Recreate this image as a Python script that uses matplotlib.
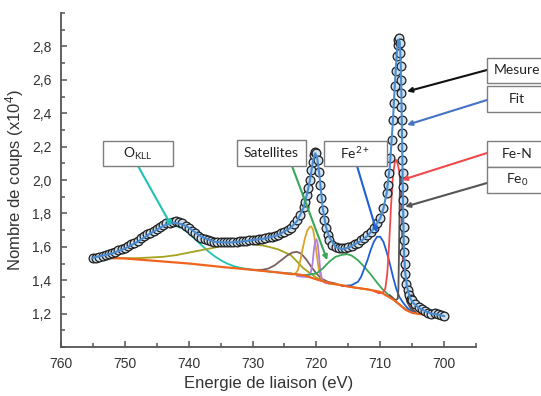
import numpy as np
import matplotlib.pyplot as plt
from matplotlib.patches import Rectangle
from matplotlib.ticker import MultipleLocator, FixedLocator, FuncFormatter

plt.rcParams['font.family'] = ['Liberation Sans', 'DejaVu Sans']
plt.rcParams['mathtext.default'] = 'regular'

# measured spectrum (binding energy in eV, counts x1e4)
mes_E = [755.0, 754.5, 754.0, 753.5, 753.0, 752.5, 752.0, 751.5, 751.0, 750.5,
         750.0, 749.5, 749.0, 748.5, 748.0, 747.5, 747.0, 746.5, 746.0, 745.5,
         745.0, 744.5, 744.0, 743.5, 743.0, 742.5, 742.0, 741.5, 741.0, 740.5,
         740.0, 739.5, 739.0, 738.5, 738.0, 737.5, 737.0, 736.5, 736.0, 735.5,
         735.0, 734.5, 734.0, 733.5, 733.0, 732.5, 732.0, 731.5, 731.0, 730.5,
         730.0, 729.5, 729.0, 728.5, 728.0, 727.5, 727.0, 726.5, 726.0, 725.5,
         725.0, 724.5, 724.0, 723.5, 723.0, 722.5, 722.0, 721.75, 721.5, 721.25,
         721.0, 720.8, 720.6, 720.4, 720.2, 720.0, 719.8, 719.6, 719.4, 719.2,
         719.0, 718.75, 718.5, 718.25, 718.0, 717.5, 717.0, 716.5, 716.0, 715.5,
         715.0, 714.5, 714.0, 713.5, 713.0, 712.5, 712.0, 711.5, 711.0, 710.5,
         710.0, 709.5, 709.0, 708.8, 708.6, 708.4, 708.2, 708.0, 707.85, 707.7,
         707.55, 707.4, 707.25, 707.15, 707.05, 706.95, 706.88, 706.82, 706.77, 706.72,
         706.68, 706.64, 706.6, 706.56, 706.52, 706.48, 706.44, 706.4, 706.36, 706.32,
         706.27, 706.22, 706.15, 706.05, 705.9, 705.7, 705.5, 705.2, 705.0, 704.5,
         704.0, 703.5, 703.0, 702.5, 702.0, 701.5, 701.0, 700.5, 700.0]
mes_v = [1.53, 1.535, 1.54, 1.545, 1.55, 1.555, 1.565, 1.57, 1.58, 1.585,
         1.595, 1.605, 1.615, 1.625, 1.635, 1.65, 1.665, 1.675, 1.685, 1.695,
         1.705, 1.72, 1.73, 1.74, 1.745, 1.75, 1.755, 1.75, 1.74, 1.725,
         1.71, 1.695, 1.68, 1.665, 1.655, 1.645, 1.64, 1.635, 1.63, 1.628,
         1.627, 1.626, 1.627, 1.628, 1.63, 1.63, 1.632, 1.634, 1.636, 1.638,
         1.64, 1.642, 1.645, 1.648, 1.652, 1.656, 1.66, 1.665, 1.67, 1.68,
         1.69, 1.70, 1.715, 1.735, 1.76, 1.79, 1.84, 1.87, 1.91, 1.95,
         2.00, 2.06, 2.11, 2.15, 2.17, 2.16, 2.12, 2.05, 1.97, 1.89,
         1.82, 1.76, 1.71, 1.67, 1.64, 1.61, 1.60, 1.59, 1.59, 1.595,
         1.60, 1.605, 1.615, 1.625, 1.64, 1.655, 1.67, 1.69, 1.715, 1.74,
         1.77, 1.83, 1.92, 1.97, 2.04, 2.13, 2.24, 2.36, 2.46, 2.56,
         2.65, 2.74, 2.81, 2.84, 2.85, 2.82, 2.76, 2.68, 2.60, 2.52,
         2.44, 2.36, 2.28, 2.20, 2.12, 2.04, 1.96, 1.88, 1.80, 1.72,
         1.64, 1.57, 1.50, 1.44, 1.38, 1.34, 1.31, 1.29, 1.28, 1.26,
         1.24, 1.225, 1.215, 1.205, 1.20, 1.205, 1.20, 1.19, 1.185]

# envelope of the fit
fit_E = [755, 752, 750, 748, 746, 744, 742.5, 741, 740, 738, 736, 734, 732, 730,
         728, 726, 724, 723, 722, 721.5, 721, 720.5, 720.2, 719.9, 719.5, 719,
         718.5, 718, 717, 716, 715, 714, 713, 712, 711, 710, 709.5, 709, 708.5,
         708, 707.7, 707.4, 707.15, 706.95, 706.8, 706.7, 706.6, 706.5, 706.4,
         706.3, 706.1, 705.8, 705.4, 705, 704, 703, 702, 701, 700]
fit_v = [1.535, 1.56, 1.59, 1.63, 1.68, 1.725, 1.745, 1.735, 1.715, 1.66, 1.63,
         1.625, 1.63, 1.64, 1.65, 1.67, 1.715, 1.755, 1.835, 1.91, 2.00, 2.12,
         2.16, 2.14, 2.02, 1.83, 1.72, 1.66, 1.60, 1.585, 1.595, 1.615, 1.635,
         1.665, 1.71, 1.77, 1.83, 1.92, 2.08, 2.36, 2.58, 2.76, 2.84, 2.83,
         2.72, 2.55, 2.30, 2.05, 1.80, 1.60, 1.45, 1.36, 1.30, 1.27, 1.235,
         1.215, 1.20, 1.195, 1.185]

# fitted components
bg_E = [755, 750, 745, 740, 735, 730, 725, 722, 720, 718, 715, 712, 710, 708,
        707, 706, 705, 704, 702, 700]
bg_v = [1.535, 1.53, 1.515, 1.50, 1.48, 1.462, 1.442, 1.43, 1.405, 1.383, 1.362,
        1.345, 1.33, 1.285, 1.255, 1.222, 1.205, 1.198, 1.192, 1.18]

okll_E = [755, 752, 750, 748, 746, 744.5, 743, 742, 741, 740, 739, 738, 737,
          736, 735, 734, 733, 732, 731, 730, 728, 726, 724]
okll_v = [1.535, 1.56, 1.585, 1.625, 1.67, 1.70, 1.725, 1.725, 1.71, 1.68, 1.645,
          1.61, 1.575, 1.545, 1.52, 1.50, 1.485, 1.475, 1.468, 1.463, 1.455,
          1.447, 1.44]

olive_E = [752, 748, 744, 742, 740, 738, 736, 734, 732, 730, 728, 726, 724,
           722, 720, 718, 716, 714, 712]
olive_v = [1.532, 1.532, 1.54, 1.55, 1.565, 1.58, 1.595, 1.61, 1.615, 1.617,
           1.605, 1.585, 1.55, 1.47, 1.415, 1.385, 1.37, 1.355, 1.345]

brown_E = [730, 728.5, 727.5, 726.5, 725.5, 724.5, 723.8, 723.1, 722.4, 721.6,
           720.8, 720, 719.2, 718.2, 717]
brown_v = [1.462, 1.462, 1.47, 1.49, 1.52, 1.55, 1.565, 1.57, 1.56, 1.525,
           1.48, 1.44, 1.41, 1.39, 1.38]

gold_E = [725, 723.8, 723.3, 722.9, 722.5, 722.2, 721.8, 721.4, 721.0, 720.8,
          720.5, 720.2, 719.9, 719.6, 719.2, 718.8, 718.2, 717]
gold_v = [1.44, 1.435, 1.44, 1.46, 1.52, 1.58, 1.65, 1.70, 1.72, 1.722,
          1.70, 1.63, 1.54, 1.46, 1.41, 1.39, 1.38, 1.375]

purple_E = [723, 722, 721.3, 720.9, 720.6, 720.4, 720.2, 720.0, 719.8, 719.6,
            719.4, 719.1, 718.7, 718]
purple_v = [1.425, 1.42, 1.42, 1.44, 1.50, 1.58, 1.63, 1.645, 1.62, 1.55,
            1.46, 1.40, 1.385, 1.38]

green_E = [724, 722, 720, 719, 718, 717, 716, 715.2, 714.5, 713.5, 712.5,
           711.5, 710.5, 709.5, 708.5, 707.5, 706.5, 705.5, 704.5, 703]
green_v = [1.44, 1.43, 1.44, 1.47, 1.51, 1.54, 1.552, 1.556, 1.548, 1.52, 1.48,
           1.435, 1.385, 1.34, 1.305, 1.27, 1.24, 1.215, 1.203, 1.197]

blue_E = [716, 714.5, 713.5, 713, 712.5, 712, 711.5, 711, 710.5, 710.0, 709.5,
          709, 708.5, 708, 707.5, 707, 706.5, 706, 705.5, 704.5]
blue_v = [1.365, 1.37, 1.39, 1.42, 1.47, 1.52, 1.58, 1.63, 1.66, 1.66, 1.63,
          1.57, 1.50, 1.42, 1.35, 1.30, 1.27, 1.245, 1.225, 1.205]

red_E = [711, 710.2, 709.6, 709.2, 708.9, 708.6, 708.3, 708.0, 707.7, 707.5,
         707.3, 707.0, 706.8, 706.65, 706.5, 706.3, 706.0, 705.6, 705.2, 704.7]
red_v = [1.335, 1.322, 1.325, 1.35, 1.44, 1.62, 1.85, 2.03, 2.11, 2.12,
         2.10, 2.05, 1.95, 1.75, 1.55, 1.42, 1.33, 1.27, 1.24, 1.215]

gray_E = [708.5, 707.6, 707.25, 707.15, 707.05, 706.95, 706.85, 706.7, 706.55,
          706.45, 706.3, 706.1, 705.8, 705.2, 704.5]
gray_v = [1.31, 1.28, 1.29, 1.35, 1.60, 1.90, 2.04, 2.00, 1.85, 1.65, 1.45,
          1.33, 1.27, 1.23, 1.21]

components = [
    (okll_E, okll_v, '#21c2b5'),
    (olive_E, olive_v, '#a3a31e'),
    (brown_E, brown_v, '#7d5e60'),
    (gold_E, gold_v, '#d9a423'),
    (purple_E, purple_v, '#b77be6'),
    (green_E, green_v, '#38a856'),
    (blue_E, blue_v, '#2160d4'),
    (red_E, red_v, '#f0494c'),
    (gray_E, gray_v, '#555555'),
]

# label boxes (pixel boxes: left, top, right, bottom) and arrow targets (data)
W, H = 541, 396
labels = ['O$_{KLL}$', 'Satellites', 'Fe$^{2+}$', 'Mesure', 'Fit', 'Fe-N', 'Fe$_0$']
boxes = [(103, 141, 173, 166), (237, 140, 306, 166), (324, 141, 387, 166),
         (487, 58, 548, 83), (487, 86, 548, 112), (487, 141, 548, 167),
         (487, 167, 548, 193)]
arrow_start = [(138, 166), (292, 166), (357, 166), (487, 70), (487, 100),
               (487, 153), (487, 183)]
arrow_E = [742.7, 718.3, 710.5, 705.8, 705.8, 706.6, 706.1]
arrow_v = [1.726, 1.52, 1.684, 2.53, 2.33, 2.00, 1.84]
arrow_col = ['#21c2b5', '#38a856', '#2160d4', '#111111', '#4472c4', '#f0494c', '#555555']

fig = plt.figure(figsize=(W / 100, H / 100), dpi=100)
ax = fig.add_axes([61 / W, 1 - 347 / H, (476 - 61) / W, (347 - 13) / H])

ax.plot(bg_E, bg_v, color='#f0641e', lw=1.6, zorder=2.5)
for e, v, c in components:
    ax.plot(e, v, color=c, lw=1.3, zorder=2)

ax.plot(mes_E, mes_v, ls='none', marker='o', ms=6.3, mfc='#cfe1ef',
        mec='#1e1e1e', mew=0.9, zorder=3)
ax.plot(fit_E, fit_v, color='#4a8bd0', lw=1.5, zorder=4)

ax.set_xlim(760, 695)
ax.set_ylim(1.0, 3.0)
ax.xaxis.set_major_locator(FixedLocator([760, 750, 740, 730, 720, 710, 700]))
ax.xaxis.set_minor_locator(MultipleLocator(5))
ax.yaxis.set_major_locator(FixedLocator([1.2, 1.4, 1.6, 1.8, 2.0, 2.2, 2.4, 2.6, 2.8]))
ax.yaxis.set_minor_locator(MultipleLocator(0.1))
ax.yaxis.set_major_formatter(FuncFormatter(lambda y, p: f'{y:.1f}'.replace('.', ',')))

for s in ['top', 'right']:
    ax.spines[s].set_visible(False)
for s in ['left', 'bottom']:
    ax.spines[s].set_color('#555555')
    ax.spines[s].set_linewidth(1.3)
ax.tick_params(which='both', direction='in', color='#555555', width=1.1,
               labelsize=10, labelcolor='#333333')
ax.tick_params(which='major', length=4.5, pad=7)
ax.tick_params(which='minor', length=3)

ax.set_xlabel('Energie de liaison (eV)', fontsize=12, color='#333333', labelpad=4)
ax.set_ylabel('Nombre de coups (x10$^4$)', fontsize=12, color='#333333', labelpad=4)

for lab, (l, t, r, b), (sx, sy), te, tv, c in zip(labels, boxes, arrow_start,
                                                   arrow_E, arrow_v, arrow_col):
    fig.patches.append(Rectangle((l / W, 1 - b / H), (r - l) / W, (b - t) / H,
                                 transform=fig.transFigure, fc='white',
                                 ec='#7f7f7f', lw=1.0, zorder=5))
    cx = (l + r) / 2 if r < W else l + 30
    fig.text(cx / W, 1 - (t + b) / 2 / H, lab, ha='center', va='center',
             fontsize=10, family=['Lato', 'DejaVu Sans'], color='#222222', zorder=6)
    ax.annotate('', xy=(te, tv), xycoords='data',
                xytext=(sx / W, 1 - sy / H), textcoords='figure fraction',
                arrowprops=dict(arrowstyle='-|>', color=c, lw=1.5,
                                mutation_scale=7, shrinkA=0, shrinkB=0),
                zorder=7, annotation_clip=False)

fig.savefig('out.png', dpi=100)
